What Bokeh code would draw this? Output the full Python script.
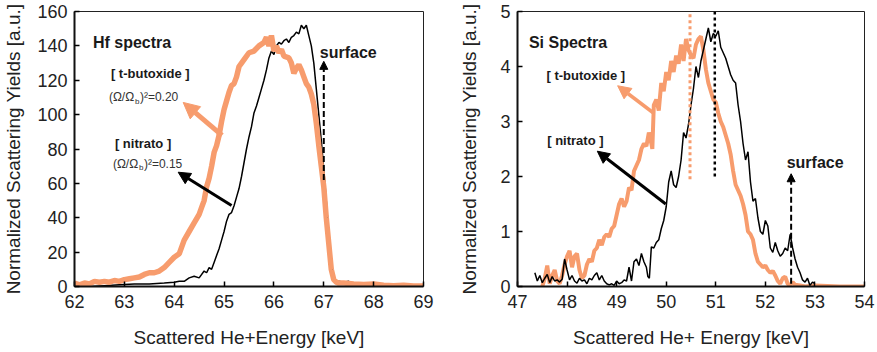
from bokeh.plotting import figure
from bokeh.layouts import row
from bokeh.models import Range1d, FixedTicker, Label, Arrow, NormalHead
from bokeh.embed import file_html
from bokeh.resources import INLINE

# ---------------- data ----------------
# Hf spectra (left panel)
hf_x_ticks = [62, 63, 64, 65, 66, 67, 68, 69]
hf_y_ticks = [0, 20, 40, 60, 80, 100, 120, 140, 160]

hf_tbut_x = [62.0, 62.1, 62.2, 62.3, 62.4, 62.5, 62.6, 62.7, 62.8, 62.9, 63.0, 63.1, 63.2, 63.3, 63.4,
             63.5, 63.6, 63.7, 63.8, 63.9, 64.0, 64.1, 64.2, 64.3, 64.4, 64.5, 64.55, 64.6, 64.65, 64.7,
             64.75, 64.8, 64.85, 64.9, 64.95, 65.0, 65.05, 65.1, 65.15, 65.2, 65.25, 65.3, 65.35, 65.4,
             65.5, 65.6, 65.7, 65.8, 65.85, 65.9, 65.95, 66.0, 66.05, 66.1, 66.15, 66.2, 66.3, 66.35,
             66.4, 66.45, 66.5, 66.55, 66.6, 66.65, 66.7, 66.75, 66.8, 66.85, 66.9, 66.95, 67.0, 67.05,
             67.1, 67.15, 67.2, 67.25, 67.3, 67.4, 67.6, 67.8, 68.0, 68.2, 68.4, 68.6, 68.8, 69.0]
hf_tbut_y = [2, 1, 2, 1.5, 3, 2.5, 3, 2.5, 3.5, 3, 4, 4.5, 5, 5.5, 7,
             8, 8, 9, 11, 14, 17, 19, 27, 32, 37, 42, 46, 50, 58, 63,
             70, 78, 82, 88, 96, 103, 108, 113, 117, 118, 122, 128, 130, 132,
             136, 137, 140, 142, 145, 140, 146, 137, 140, 136, 138, 134, 133, 130,
             124, 127, 129, 126, 122, 118, 116, 112, 106, 95, 82, 70, 58, 40,
             25, 10, 4, 2.5, 2, 2, 1.5, 1.2, 1.5, 0.8, 0.5, 0.8, 0.3, 0.3]

hf_nit_x = [62.3, 62.6, 62.9, 63.2, 63.5, 63.8, 64.0, 64.1, 64.2, 64.3, 64.4, 64.5, 64.6, 64.65, 64.7,
            64.75, 64.8, 64.85, 64.9, 64.95, 65.0, 65.05, 65.1, 65.15, 65.2, 65.25, 65.3, 65.35, 65.4,
            65.45, 65.5, 65.55, 65.6, 65.65, 65.7, 65.75, 65.8, 65.85, 65.9, 65.95, 66.0, 66.05, 66.1,
            66.15, 66.2, 66.25, 66.3, 66.35, 66.4, 66.45, 66.5, 66.55, 66.6, 66.65, 66.7, 66.75, 66.8,
            66.85, 66.9, 66.95, 67.0, 67.05, 67.1, 67.15, 67.2, 67.3, 67.4, 67.5, 67.6, 67.7, 67.8, 67.9]
hf_nit_y = [0, 0.5, 1, 1.5, 1.5, 2, 2.5, 3, 3, 5, 6, 5, 9, 8, 11,
            10, 14, 18, 22, 27, 32, 38, 42, 43, 47, 52, 57, 64, 72,
            80, 87, 93, 101, 105, 110, 115, 120, 126, 133, 137, 135, 140, 142,
            141, 143, 144, 142, 145, 146, 148, 147, 152, 150, 152, 146, 140, 130,
            115, 100, 85, 68, 50, 30, 15, 4, 3, 2.5, 3, 1.5, 1, 0.5, 0]

# Si spectra (right panel)
si_x_ticks = [47, 48, 49, 50, 51, 52, 53, 54]
si_y_ticks = [0, 1, 2, 3, 4, 5]

si_nit_x = [47.35, 47.4, 47.45, 47.5, 47.55, 47.6, 47.65, 47.7, 47.75, 47.8, 47.85, 47.9, 47.95, 48.0,
            48.05, 48.1, 48.15, 48.2, 48.25, 48.3, 48.35, 48.4, 48.45, 48.5, 48.55, 48.6, 48.65, 48.7,
            48.75, 48.8, 48.85, 48.9, 48.95, 49.0, 49.05, 49.1, 49.15, 49.2, 49.25, 49.3, 49.35, 49.4,
            49.45, 49.5, 49.55, 49.6, 49.63, 49.66, 49.7, 49.75, 49.8, 49.85, 49.9, 49.95, 50.0, 50.05,
            50.1, 50.15, 50.2, 50.25, 50.3, 50.35, 50.4, 50.45, 50.5, 50.55, 50.6, 50.65, 50.7, 50.75,
            50.8, 50.85, 50.9, 50.95, 51.0, 51.05, 51.1, 51.15, 51.2, 51.25, 51.3, 51.35, 51.4, 51.45,
            51.5, 51.55, 51.6, 51.65, 51.7, 51.75, 51.8, 51.85, 51.9, 51.95, 52.0, 52.05, 52.1, 52.15,
            52.2, 52.25, 52.3, 52.35, 52.4, 52.45, 52.5, 52.55, 52.6, 52.65, 52.7, 52.75, 52.8, 52.85,
            52.9, 52.95, 53.0]
si_nit_y = [0.25, 0.1, 0.2, 0.07, 0.15, 0.22, 0.07, 0.18, 0.1, 0.12, 0.08, 0.13, 0.5, 0.3,
            0.12, 0.2, 0.1, 0.06, 0.15, 0.1, 0.12, 0.05, 0.15, 0.12, 0.2, 0.25, 0.12, 0.2,
            0.1, 0.05, 0.03, 0.05, 0.02, 0.1, 0.05, 0.07, 0.12, 0.1, 0.35, 0.1, 0.45, 0.5,
            0.38, 0.6, 0.45, 0.35, 0.18, 0.15, 0.72, 0.7, 0.8, 0.85, 1.05, 1.2, 1.45, 1.9,
            2.1, 1.85, 1.8, 2.0, 2.3, 2.8, 2.7, 2.95, 3.3, 3.6, 4.0, 3.8, 4.1, 4.3,
            4.5, 4.7, 4.45, 4.6, 4.55, 4.65, 4.35, 4.25, 4.15, 4.0, 3.85, 3.75, 3.7, 3.3,
            3.0, 2.6, 2.3, 2.45, 1.9, 1.55, 1.6, 1.25, 1.0, 0.95, 1.2, 1.1, 0.7, 0.62,
            0.8, 0.65, 0.55, 0.6, 0.7, 0.65, 0.95, 0.7, 0.5, 0.35, 0.25, 0.12, 0.08, 0.15,
            0.02, 0.08, 0.05]

si_tbut_x = [47.5, 47.55, 47.6, 47.65, 47.7, 47.75, 47.8, 47.85, 47.9, 47.95, 48.0, 48.05, 48.1, 48.15,
             48.2, 48.25, 48.3, 48.35, 48.4, 48.45, 48.5, 48.55, 48.6, 48.65, 48.7, 48.75, 48.8, 48.85,
             48.9, 48.95, 49.0, 49.05, 49.1, 49.15, 49.2, 49.25, 49.3, 49.35, 49.4, 49.45, 49.5, 49.55,
             49.6, 49.65, 49.7, 49.72, 49.75, 49.8, 49.85, 49.9, 49.95, 50.0, 50.05, 50.1, 50.15, 50.2,
             50.25, 50.3, 50.35, 50.4, 50.45, 50.5, 50.55, 50.6, 50.65, 50.7, 50.75, 50.8, 50.85, 50.9,
             50.95, 51.0, 51.05, 51.1, 51.15, 51.2, 51.25, 51.3, 51.35, 51.4, 51.45, 51.5, 51.55, 51.6,
             51.65, 51.7, 51.75, 51.8, 51.85, 51.9, 51.95, 52.0, 52.05, 52.1, 52.15, 52.2, 52.25, 52.3,
             52.35, 52.4, 52.45, 52.5, 52.55, 52.6, 52.7, 52.8, 53.0, 53.5, 54.0]
si_tbut_y = [0.0, 0.15, 0.38, 0.05, 0.2, 0.3, 0.1, 0.05, 0.2, 0.4, 0.55, 0.65, 0.35, 0.55,
             0.6, 0.3, 0.15, 0.2, 0.4, 0.5, 0.45, 0.65, 0.7, 0.85, 0.75, 0.9, 0.95, 0.9,
             1.05, 1.1, 1.3, 1.5, 1.6, 1.45, 1.55, 1.8, 1.75, 2.1, 2.2, 2.3, 2.5, 2.6,
             2.55, 2.8, 2.6, 2.5, 3.3, 3.4, 3.2, 3.7, 3.55, 3.9, 3.75, 4.1, 3.9, 4.2,
             4.05, 4.4, 4.1, 4.5, 4.3, 4.2, 4.15, 4.4, 4.5, 4.55, 4.3, 3.95, 3.7, 3.55,
             3.4, 3.35, 3.15, 3.0, 2.9, 2.75, 2.6, 2.4, 2.1, 1.85, 1.75, 1.65, 1.5, 1.3,
             1.0, 0.95, 0.85, 0.6, 0.45, 0.4, 0.35, 0.38, 0.3, 0.25, 0.28, 0.2, 0.1, 0.05,
             0.15, 0.18, 0.05, 0.02, 0.08, 0.03, 0.02, 0.0, 0.02, 0.0, 0.0]

ORANGE = "#F79C6D"
FONT = "Liberation Sans"
TXT = "#1a1a1a"


def base_fig(width, xr, yr, xticks, yticks, bl, br, bt, bb, xlabel, ylabel, ylab_standoff):
    p = figure(width=width, height=352, output_backend="svg", toolbar_location=None,
               x_range=Range1d(*xr), y_range=Range1d(*yr))
    p.min_border_left = bl
    p.min_border_right = br
    p.min_border_top = bt
    p.min_border_bottom = bb
    p.grid.visible = False
    p.outline_line_color = "#222222"
    p.outline_line_width = 1
    p.background_fill_color = "white"
    p.border_fill_color = "white"
    p.xaxis.ticker = FixedTicker(ticks=xticks)
    p.yaxis.ticker = FixedTicker(ticks=yticks)
    for ax in (p.xaxis[0], p.yaxis[0]):
        ax.axis_line_width = 2
        ax.axis_line_color = "#111111"
        ax.major_tick_in = 5
        ax.major_tick_out = 0
        ax.major_tick_line_width = 1.5
        ax.minor_tick_in = 0
        ax.minor_tick_out = 0
        ax.major_label_text_font = FONT
        ax.major_label_text_font_size = "18px"
        ax.major_label_text_color = "#222222"
        ax.axis_label_text_font = FONT
        ax.axis_label_text_font_size = "19px"
        ax.axis_label_text_font_style = "normal"
        ax.axis_label_text_color = "#222222"
    p.xaxis.axis_label = xlabel
    p.yaxis.axis_label = ylabel
    p.xaxis.major_label_standoff = 8
    p.yaxis.major_label_standoff = 7
    p.xaxis.axis_label_standoff = 16
    p.yaxis.axis_label_standoff = ylab_standoff
    return p


def lab(p, x, y, text, size, bold=True, color=TXT, xo=0, yo=0):
    p.add_layout(Label(x=x, y=y, text=text, text_font=FONT, text_font_size=size,
                       text_font_style="bold" if bold else "normal", text_color=color,
                       text_baseline="middle", text_align="left", x_offset=xo, y_offset=yo))


def ratio(p, x, y, val):
    lab(p, x, y, "(Ω/Ω", "12px", bold=False, color="#333333")
    lab(p, x, y, "b", "8px", bold=False, color="#333333", xo=26, yo=-4)
    lab(p, x, y, ")²=" + val, "12px", bold=False, color="#333333", xo=31)


def arrow(p, x0, y0, x1, y1, color, lw, hs, dash="solid"):
    p.add_layout(Arrow(end=NormalHead(size=hs, fill_color=color, line_color=color, line_width=1),
                       x_start=x0, y_start=y0, x_end=x1, y_end=y1,
                       line_color=color, line_width=lw, line_dash=dash))


# ---------------- left panel ----------------
p1 = base_fig(440, (62, 69), (0, 160), hf_x_ticks, hf_y_ticks, 74, 17, 11, 66,
              "Scattered He+Energy [keV]", "Normalized Scattering Yields [a.u.]", 10)
p1.line(hf_nit_x, hf_nit_y, line_color="black", line_width=1.5)
p1.line(hf_tbut_x, hf_tbut_y, line_color=ORANGE, line_width=5.5)

lab(p1, 62.37, 142.1, "Hf spectra", "16px")
lab(p1, 62.73, 123.7, "[ t-butoxide ]", "13px")
ratio(p1, 62.69, 110.1, "0.20")
lab(p1, 62.81, 83.4, "[ nitrato ]", "13px")
ratio(p1, 62.77, 71.4, "0.15")
lab(p1, 66.92, 136.0, "surface", "16px")

arrow(p1, 64.96, 87.9, 64.18, 107.1, ORANGE, 5, 16)
arrow(p1, 65.15, 47.1, 64.08, 66.5, "black", 3, 12)
arrow(p1, 67.0, 62.0, 67.0, 131.0, "black", 2, 8, dash="6 3")

# ---------------- right panel ----------------
p2 = base_fig(437, (47, 54), (0, 5), si_x_ticks, si_y_ticks, 77, 13, 10, 65,
              "Scattered He+ Energy [keV]", "Normalized Scattering Yields [a.u.]", 17)
p2.line(si_tbut_x, si_tbut_y, line_color=ORANGE, line_width=4)
p2.line(si_nit_x, si_nit_y, line_color="black", line_width=1.5)

p2.line([50.48, 50.48], [1.95, 4.95], line_color=ORANGE, line_width=3, line_dash="3 3")
p2.line([50.98, 50.98], [2.0, 5.0], line_color="black", line_width=2.5, line_dash="3 3")

lab(p2, 47.23, 4.43, "Si Spectra", "16px")
lab(p2, 47.585, 3.83, "[ t-butoxide ]", "13px")
lab(p2, 47.6, 2.65, "[ nitrato ]", "13px")
lab(p2, 52.43, 2.25, "surface", "16px")

arrow(p2, 49.75, 3.15, 49.02, 3.65, ORANGE, 3.5, 13)
arrow(p2, 49.99, 1.50, 48.61, 2.46, "black", 3, 12)
arrow(p2, 52.52, 0.05, 52.52, 2.05, "black", 2, 8, dash="6 3")

layout = row(p1, p2)
open("out.html", "w").write(file_html(layout, INLINE))
